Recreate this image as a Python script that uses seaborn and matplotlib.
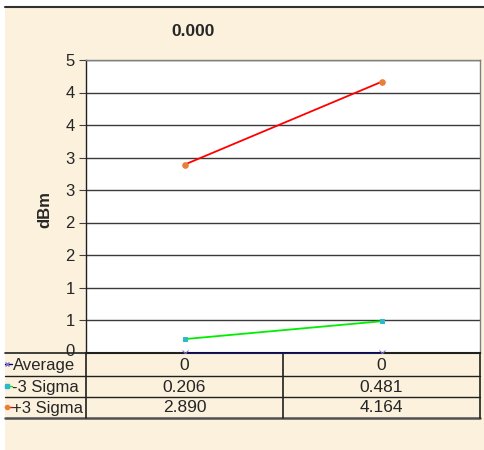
import matplotlib
matplotlib.use("Agg")
import matplotlib.pyplot as plt
import numpy as np
import pandas as pd
import seaborn as sns
from matplotlib.patches import Rectangle
from matplotlib.transforms import ScaledTranslation, blended_transform_factory

# chart data
points = [0, 1]
series_names = ["Average", "-3 Sigma", "+3 Sigma"]
average = [0.0, 0.0]
minus_3_sigma = [0.206, 0.481]
plus_3_sigma = [2.890, 4.164]
table_text = {
    "Average": ["0", "0"],
    "-3 Sigma": ["0.206", "0.481"],
    "+3 Sigma": ["2.890", "4.164"],
}
title_text = "0.000"
y_label = "dBm"
y_ticks = [0.0, 0.5, 1.0, 1.5, 2.0, 2.5, 3.0, 3.5, 4.0, 4.5]

line_colors = {"Average": "#000090", "-3 Sigma": "#00EE00", "+3 Sigma": "#FF0000"}
marker_styles = {"Average": "x", "-3 Sigma": "s", "+3 Sigma": "o"}
marker_sizes = {"Average": 4, "-3 Sigma": 3, "+3 Sigma": 4}
marker_colors = {"Average": "#8070C0", "-3 Sigma": "#30B8C8", "+3 Sigma": "#E8803A"}

df = pd.DataFrame({
    "point": points * 3,
    "value": average + minus_3_sigma + plus_3_sigma,
    "series": [s for s in series_names for _ in points],
})

sns.set_style("white")
plt.rcParams["font.family"] = ["Liberation Sans", "DejaVu Sans"]

W, H = 485, 450
fig = plt.figure(figsize=(W / 100, H / 100), dpi=100, facecolor="white")

# background layer in pixel coordinates
bg = fig.add_axes([0, 0, 1, 1], zorder=0)
bg.set_xlim(0, W)
bg.set_ylim(H, 0)
bg.axis("off")
bg.add_patch(Rectangle((5, 7), W - 5, H - 7, facecolor="#FBF1DD", edgecolor="none"))
bg.plot([5, W], [6.5, 6.5], color="#303030", lw=1.5)

left, right, top, bottom = 86, 480, 60, 352.5
ax = fig.add_axes([left / W, 1 - bottom / H, (right - left) / W, (bottom - top) / H], zorder=1)
ax.set_facecolor("white")

for name in series_names:
    sub = df[df["series"] == name]
    sns.lineplot(data=sub, x="point", y="value", ax=ax, color=line_colors[name],
                 lw=1.3, marker=marker_styles[name], markersize=marker_sizes[name],
                 markerfacecolor=marker_colors[name], markeredgecolor=marker_colors[name],
                 legend=False, zorder=3)

ax.set_xlim(-0.5, 1.5)
ax.set_ylim(0, 4.5)
ax.set_yticks(y_ticks)
ax.set_yticklabels([str(int(np.floor(v + 0.5))) for v in y_ticks])
ax.set_xticks([])
ax.set_xlabel("")
ax.set_ylabel("")
ax.tick_params(axis="y", direction="out", length=5, width=0.8, color="#404040",
               labelsize=12, pad=3, left=True)
# lift the "0" label a touch so it clears the table's first row
zero_lbl = ax.get_yticklabels()[0]
zero_lbl.set_transform(zero_lbl.get_transform() + ScaledTranslation(0, 2 / 72, fig.dpi_scale_trans))
for v in y_ticks[1:]:
    ax.axhline(v, color="#3a3a3a", lw=1.0, zorder=1)
for side in ["top", "right"]:
    ax.spines[side].set_color("#808080")
    ax.spines[side].set_linewidth(1.0)
ax.spines["left"].set_color("#202020")
ax.spines["bottom"].set_color("#202020")
ax.spines["left"].set_linewidth(1.0)
ax.spines["bottom"].set_linewidth(1.5)

fig.text(193 / W, 1 - 32 / H, title_text, ha="center", va="center",
         fontsize=12.5, fontweight="bold")
fig.text(45 / W, 1 - 210 / H, y_label, ha="center", va="center",
         fontsize=12, fontweight="bold", rotation=90)

# data table below the plot
row_edges = [352.5, 375.5, 396.5, 417.5]
tr = blended_transform_factory(ax.transData, bg.transData)
for y in row_edges[1:3]:
    bg.plot([5, right], [y, y], color="#202020", lw=1.0, zorder=2)
bg.plot([5, right], [row_edges[-1], row_edges[-1]], color="#505050", lw=1.8, zorder=2)
bg.plot([5, right], [row_edges[0], row_edges[0]], color="#202020", lw=1.2, zorder=2)
for x in [left, right]:
    bg.plot([x, x], [row_edges[0], row_edges[-1]], color="#202020", lw=1.2, zorder=2)
bg.plot([0.5, 0.5], [row_edges[0], row_edges[-1]], color="#202020", lw=1.2,
        zorder=2, transform=tr)

for i, name in enumerate(series_names):
    yc = (row_edges[i] + row_edges[i + 1]) / 2
    bg.plot([5, 12], [yc, yc], color=line_colors[name], lw=1.0, zorder=3)
    bg.plot([7.5], [yc], marker=marker_styles[name], markersize=3,
            color=marker_colors[name], zorder=4)
    bg.text(12.5, yc + 1.5, name, ha="left", va="center", fontsize=12, zorder=4)
    for p, txt in zip(points, table_text[name]):
        bg.text(p, yc + 1, txt, ha="center", va="center", fontsize=12.5,
                transform=tr, zorder=4)

fig.savefig("out.png", dpi=100, facecolor="white")
